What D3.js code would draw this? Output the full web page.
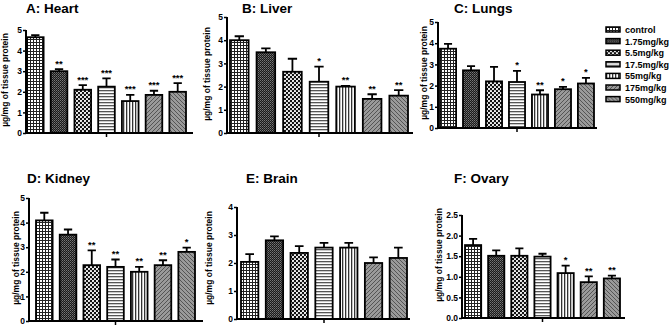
<!DOCTYPE html>
<html>
<head>
<meta charset="utf-8">
<script src="https://cdn.jsdelivr.net/npm/d3@7"></script>
<style>
    html, body { margin: 0; padding: 0; background: #fff; }
    svg { display: block; font-family: 'Liberation Sans', Arial, sans-serif; }
    .title { font-size: 13.5px; font-weight: bold; }
    .ylabel { font-size: 8.5px; font-weight: bold; }
    .tick text { font-size: 8.5px; font-weight: bold; }
    .star { font-size: 9.5px; font-weight: bold; }
    .legend text { font-size: 9px; font-weight: bold; }
</style>
</head>
<body>
<div id="graph"></div>
<script>
const categories = ['control', '1.75mg/kg', '5.5mg/kg', '17.5mg/kg', '55mg/kg', '175mg/kg', '550mg/kg'];

const heartMean = [4.65, 3.0, 2.1, 2.25, 1.55, 1.85, 2.0];
const heartErr = [0.1, 0.1, 0.22, 0.4, 0.3, 0.2, 0.42];
const heartStars = ['', '**', '***', '***', '***', '***', '***'];

const liverMean = [4.0, 3.48, 2.64, 2.21, 2.0, 1.47, 1.61];
const liverErr = [0.17, 0.17, 0.56, 0.65, 0.03, 0.2, 0.24];
const liverStars = ['', '', '', '*', '**', '**', '**'];

const lungsMean = [3.74, 2.72, 2.2, 2.17, 1.58, 1.83, 2.1];
const lungsErr = [0.23, 0.2, 0.68, 0.52, 0.2, 0.11, 0.26];
const lungsStars = ['', '', '', '*', '**', '*', '*'];

const kidneyMean = [4.09, 3.51, 2.27, 2.2, 2.0, 2.27, 2.81];
const kidneyErr = [0.31, 0.21, 0.6, 0.3, 0.2, 0.2, 0.17];
const kidneyStars = ['', '', '**', '**', '**', '**', '*'];

const brainMean = [2.04, 2.81, 2.36, 2.55, 2.55, 2.0, 2.18];
const brainErr = [0.28, 0.14, 0.24, 0.17, 0.17, 0.2, 0.37];
const brainStars = ['', '', '', '', '', '', ''];

const ovaryMean = [1.77, 1.51, 1.51, 1.49, 1.09, 0.87, 0.96];
const ovaryErr = [0.15, 0.13, 0.18, 0.07, 0.18, 0.14, 0.07];
const ovaryStars = ['', '', '', '', '*', '**', '**'];

const yLabelText = 'µg/mg of tissue protein';
const patternIds = ['pGrid', 'pDark', 'pDots', 'pHoriz', 'pVert', 'pDiagA', 'pDiagB'];

// panel placement (pixels)
const panels = [
    { title: 'A: Heart',  mean: heartMean,  err: heartErr,  stars: heartStars,  max: 5,   step: 1,   fmt: 'd',
      axisX: 26,  endX: 193, barX0: 27,  barX1: 186, top: 30,  base: 133, titleX: 26,  titleY: 13,  labelX: 8,   labelY: 80 },
    { title: 'B: Liver',  mean: liverMean,  err: liverErr,  stars: liverStars,  max: 5,   step: 1,   fmt: 'd',
      axisX: 227, endX: 413, barX0: 230, barX1: 408, top: 17,  base: 133, titleX: 242, titleY: 13,  labelX: 210, labelY: 74 },
    { title: 'C: Lungs',  mean: lungsMean,  err: lungsErr,  stars: lungsStars,  max: 5,   step: 1,   fmt: 'd',
      axisX: 438, endX: 597, barX0: 440, barX1: 594, top: 22,  base: 128, titleX: 454, titleY: 13,  labelX: 427, labelY: 73 },
    { title: 'D: Kidney', mean: kidneyMean, err: kidneyErr, stars: kidneyStars, max: 5,   step: 1,   fmt: 'd',
      axisX: 29,  endX: 203, barX0: 36,  barX1: 195, top: 198, base: 321, titleX: 27,  titleY: 183, labelX: 19,  labelY: 258 },
    { title: 'E: Brain',  mean: brainMean,  err: brainErr,  stars: brainStars,  max: 4,   step: 1,   fmt: 'd',
      axisX: 237, endX: 410, barX0: 241, barX1: 407, top: 207, base: 319, titleX: 246, titleY: 183, labelX: 212, labelY: 258 },
    { title: 'F: Ovary',  mean: ovaryMean,  err: ovaryErr,  stars: ovaryStars,  max: 2.5, step: 0.5, fmt: '.1f',
      axisX: 462, endX: 625, barX0: 465, barX1: 620, top: 215, base: 318, titleX: 454, titleY: 183, labelX: 442, labelY: 255 }
];

let svg = d3.select('div#graph')
    .append('svg')
    .attr('width', 669)
    .attr('height', 328);

function addPatterns(svg) {
    let defs = svg.append('defs');

    let grid = defs.append('pattern').attr('id', 'pGrid')
        .attr('patternUnits', 'userSpaceOnUse').attr('width', 3).attr('height', 3);
    grid.append('rect').attr('width', 3).attr('height', 3).attr('fill', '#fff');
    grid.append('path').attr('d', 'M0.5,0V3M0,0.5H3').attr('stroke', '#222').attr('stroke-width', 1);

    let dark = defs.append('pattern').attr('id', 'pDark')
        .attr('patternUnits', 'userSpaceOnUse').attr('width', 2).attr('height', 2);
    dark.append('rect').attr('width', 2).attr('height', 2).attr('fill', '#1a1a1a');
    dark.append('rect').attr('width', 1).attr('height', 1).attr('fill', '#777');
    dark.append('rect').attr('x', 1).attr('y', 1).attr('width', 1).attr('height', 1).attr('fill', '#555');

    let dots = defs.append('pattern').attr('id', 'pDots')
        .attr('patternUnits', 'userSpaceOnUse').attr('width', 4).attr('height', 4);
    dots.append('rect').attr('width', 4).attr('height', 4).attr('fill', '#111');
    dots.append('circle').attr('cx', 1).attr('cy', 1).attr('r', 1.1).attr('fill', '#fff');
    dots.append('circle').attr('cx', 3).attr('cy', 3).attr('r', 1.1).attr('fill', '#fff');

    let horiz = defs.append('pattern').attr('id', 'pHoriz')
        .attr('patternUnits', 'userSpaceOnUse').attr('width', 3).attr('height', 3);
    horiz.append('rect').attr('width', 3).attr('height', 3).attr('fill', '#fff');
    horiz.append('rect').attr('width', 3).attr('height', 1.3).attr('fill', '#555');

    let vert = defs.append('pattern').attr('id', 'pVert')
        .attr('patternUnits', 'userSpaceOnUse').attr('width', 3).attr('height', 3);
    vert.append('rect').attr('width', 3).attr('height', 3).attr('fill', '#fff');
    vert.append('rect').attr('width', 1.3).attr('height', 3).attr('fill', '#333');

    let diagA = defs.append('pattern').attr('id', 'pDiagA')
        .attr('patternUnits', 'userSpaceOnUse').attr('width', 4).attr('height', 4);
    diagA.append('rect').attr('width', 4).attr('height', 4).attr('fill', '#9a9a9a');
    diagA.append('path').attr('d', 'M-1,1L1,-1M0,4L4,0M3,5L5,3').attr('stroke', '#555').attr('stroke-width', 1);

    let diagB = defs.append('pattern').attr('id', 'pDiagB')
        .attr('patternUnits', 'userSpaceOnUse').attr('width', 4).attr('height', 4);
    diagB.append('rect').attr('width', 4).attr('height', 4).attr('fill', '#9a9a9a');
    diagB.append('path').attr('d', 'M-1,3L1,5M0,0L4,4M3,-1L5,1').attr('stroke', '#555').attr('stroke-width', 1);
}

function drawPanel(svg, p) {
    let g = svg.append('g');
    let x = d3.scaleBand()
        .domain(categories)
        .range([p.barX0, p.barX1])
        .paddingInner(0.3)
        .paddingOuter(0);
    let y = d3.scaleLinear()
        .domain([0, p.max])
        .range([p.base, p.top]);
    let rows = categories.map((c, i) => ({ cat: c, mean: p.mean[i], err: p.err[i], star: p.stars[i], fill: patternIds[i] }));

    g.append('text')
        .attr('class', 'title')
        .attr('x', p.titleX)
        .attr('y', p.titleY)
        .text(p.title);

    g.append('text')
        .attr('class', 'ylabel')
        .attr('text-anchor', 'middle')
        .attr('transform', `translate(${ p.labelX }, ${ p.labelY }) rotate(-90)`)
        .text(yLabelText);

    // error bars drawn first so the bar outline covers the foot
    let half = x.bandwidth() * 0.25;
    g.selectAll('path.err')
        .data(rows)
        .enter()
        .append('path')
            .attr('class', 'err')
            .attr('d', d => {
                let cx = x(d.cat) + x.bandwidth() / 2;
                let yt = y(d.mean + d.err);
                return `M${ cx },${ y(d.mean) }V${ yt }M${ cx - half },${ yt }H${ cx + half }`;
            })
            .attr('stroke', '#000')
            .attr('stroke-width', 1.8)
            .attr('fill', 'none');

    g.selectAll('rect.bar')
        .data(rows)
        .enter()
        .append('rect')
            .attr('class', 'bar')
            .attr('x', d => x(d.cat))
            .attr('y', d => y(d.mean))
            .attr('width', x.bandwidth())
            .attr('height', d => y(0) - y(d.mean))
            .attr('fill', d => `url(#${ d.fill })`)
            .attr('stroke', '#000')
            .attr('stroke-width', 1.8);

    g.selectAll('text.star')
        .data(rows.filter(d => d.star !== ''))
        .enter()
        .append('text')
            .attr('class', 'star')
            .attr('text-anchor', 'middle')
            .attr('x', d => x(d.cat) + x.bandwidth() / 2)
            .attr('y', d => y(d.mean + d.err) - 2.5)
            .text(d => d.star);

    let yAxis = d3.axisLeft(y)
        .tickValues(d3.range(0, p.max + p.step / 2, p.step))
        .tickFormat(d3.format(p.fmt))
        .tickSize(3)
        .tickPadding(1);
    let ya = g.append('g')
        .attr('transform', `translate(${ p.axisX }, 0)`)
        .call(yAxis);
    ya.select('.domain').attr('stroke-width', 2).attr('d', `M0,${ p.top }V${ p.base }`);
    ya.selectAll('.tick line').attr('stroke-width', 1.5);

    let mid = categories[3];
    g.append('path')
        .attr('d', `M${ p.axisX - 1 },${ p.base }H${ p.endX }`)
        .attr('stroke', '#000')
        .attr('stroke-width', 2);
    g.append('path')
        .attr('d', `M${ x(mid) + x.bandwidth() / 2 },${ p.base }v4`)
        .attr('stroke', '#000')
        .attr('stroke-width', 1.5);
}

function addLegend(svg) {
    let lg = svg.append('g').attr('class', 'legend');
    let item = lg.selectAll('g')
        .data(categories)
        .enter()
        .append('g')
            .attr('transform', (d, i) => `translate(606, ${ 27 + i * 11.6 })`);
    item.append('rect')
        .attr('width', 14)
        .attr('height', 5)
        .attr('fill', (d, i) => `url(#${ patternIds[i] })`)
        .attr('stroke', '#000')
        .attr('stroke-width', 1.5);
    item.append('text')
        .attr('x', 19)
        .attr('y', 6)
        .text(d => d);
}

addPatterns(svg);
panels.forEach(p => drawPanel(svg, p));
addLegend(svg);
</script>
</body>
</html>
